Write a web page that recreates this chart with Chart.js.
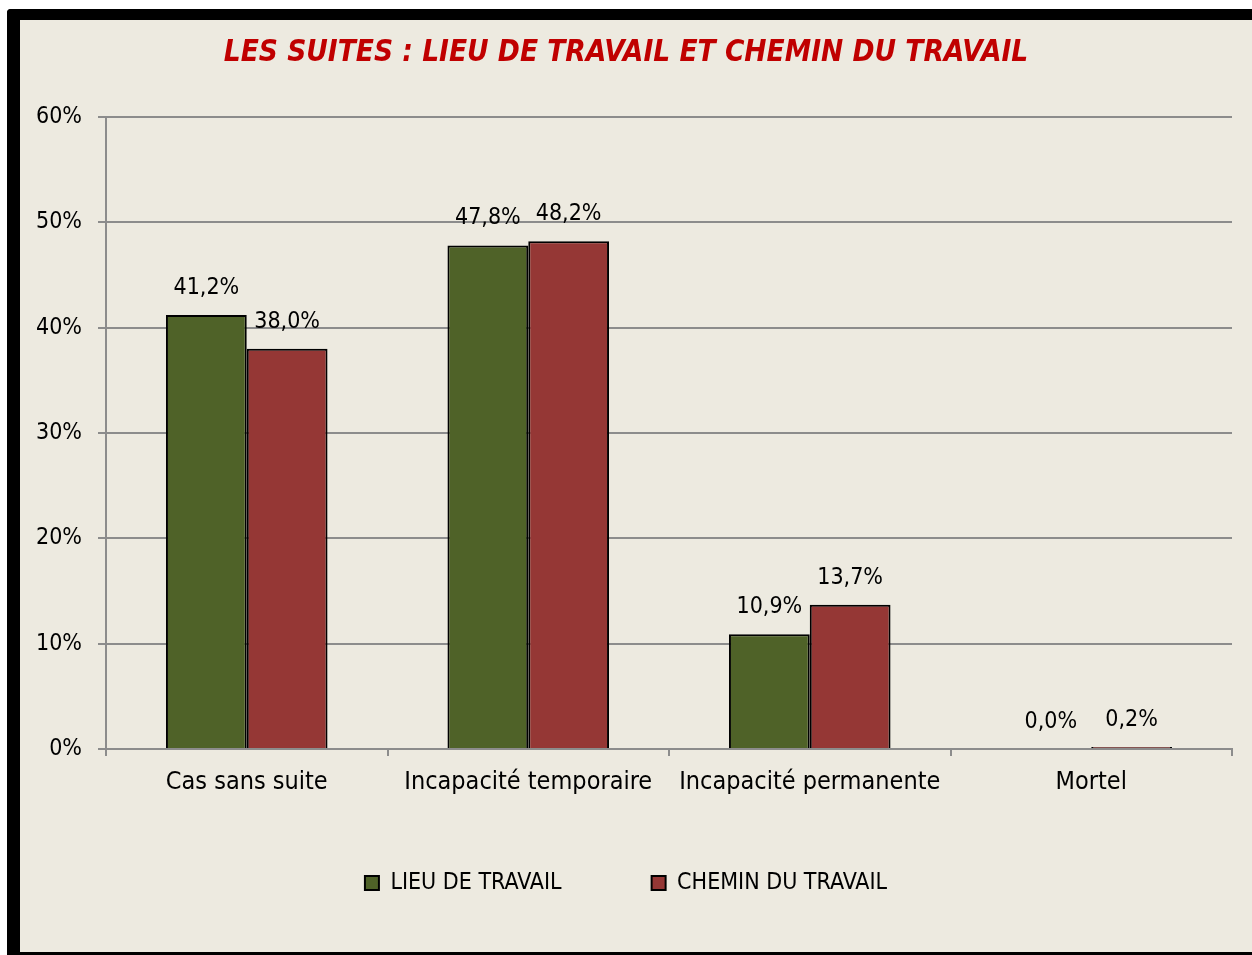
<!DOCTYPE html>
<html>
<head>
<meta charset="utf-8">
<script src="https://cdn.jsdelivr.net/npm/chart.js@4.4.0/dist/chart.umd.min.js"></script>
<style>
    html, body { margin: 0; padding: 0; background: #fff; }
    body { width: 1252px; height: 955px; position: relative; overflow: hidden; }
    #frame {
        position: absolute; left: 7px; top: 9px;
        width: 1260px; height: 932px;
        background: #EDEAE0;
        border-left: 13px solid #000; border-top: 11px solid #000; border-bottom: 3px solid #000;
        border-top-left-radius: 4px;
    }
    #suitesChart { position: absolute; left: 0; top: 0; }
</style>
</head>
<body>
<div id="frame"></div>
<canvas id="suitesChart" width="1252" height="955"></canvas>
<script>
// =========================
// Data
// =========================
const categories = ['Cas sans suite', 'Incapacité temporaire', 'Incapacité permanente', 'Mortel'];
const lieuDeTravail = [41.2, 47.8, 10.9, 0.0];
const cheminDuTravail = [38.0, 48.2, 13.7, 0.2];
const yTicks = [0, 10, 20, 30, 40, 50, 60];

const FONT = '"DejaVu Sans Condensed", "DejaVu Sans", sans-serif';
const GRID = '#8C8C8C';

// plot bottom at 749, legend text centred on 883
// legend padding also spaces the two items, so the x axis box stays short
// and its labels are drawn with mirror (no clipping to the axis box)
const plotBottom = 749;
const legendPad = 90;
const legendFont = 23;
const legendTop = 883 - legendPad - legendFont / 2;
const legendHeight = legendFont + legendPad + 10;
const xFont = 25;

// labels "41,2%" above each bar
const valueLabels = {
    id: 'valueLabels',
    afterDatasetsDraw(chart) {
        const ctx = chart.ctx;
        ctx.save();
        ctx.font = '23px ' + FONT;
        ctx.fillStyle = '#000';
        ctx.textAlign = 'center';
        ctx.textBaseline = 'middle';
        chart.data.datasets.forEach((ds, i) => {
            chart.getDatasetMeta(i).data.forEach((bar, j) => {
                let txt = ds.data[j].toFixed(1).replace('.', ',') + '%';
                ctx.fillText(txt, bar.x, bar.y - 27);
            });
        });
        ctx.restore();
    }
};

let ctx = document.getElementById('suitesChart').getContext('2d');

let suitesChart = new Chart(ctx, {
    type: 'bar',
    data: {
        labels: categories,
        datasets: [
            {
                label: 'LIEU DE TRAVAIL',
                data: lieuDeTravail,
                backgroundColor: '#4F6228',
                borderColor: '#000',
                borderWidth: 2,
                categoryPercentage: 0.574,
                barPercentage: 1
            },
            {
                label: 'CHEMIN DU TRAVAIL',
                data: cheminDuTravail,
                backgroundColor: '#953735',
                borderColor: '#000',
                borderWidth: 2,
                categoryPercentage: 0.574,
                barPercentage: 1
            }
        ]
    },
    options: {
        responsive: false,
        animation: false,
        layout: {
            padding: { left: 20, right: 20, top: 20, bottom: 955 - legendTop - legendHeight }
        },
        plugins: {
            title: {
                display: true,
                text: 'LES SUITES : LIEU DE TRAVAIL ET CHEMIN DU TRAVAIL',
                color: '#C00000',
                font: { family: FONT, size: 29.5, weight: 'bold', style: 'italic', lineHeight: 1.2 },
                padding: { top: 16, bottom: 97 - 16 - 29.5 * 1.2 }
            },
            legend: {
                position: 'bottom',
                labels: {
                    color: '#000',
                    font: { family: FONT, size: legendFont },
                    boxWidth: 14,
                    boxHeight: 14,
                    padding: legendPad
                }
            },
            tooltip: { enabled: false }
        },
        scales: {
            x: {
                grid: {
                    offset: true,
                    drawOnChartArea: false,
                    drawTicks: true,
                    tickLength: 7,
                    color: GRID,
                    lineWidth: 2
                },
                border: { color: GRID, width: 2 },
                ticks: {
                    color: '#000',
                    font: { family: FONT, size: xFont, lineHeight: 1.2 },
                    mirror: true,
                    padding: -(33 + xFont * 0.6),
                    maxRotation: 0,
                    minRotation: 0,
                    autoSkip: false
                },
                afterFit(scale) { scale.height = legendTop - plotBottom; }
            },
            y: {
                min: yTicks[0],
                max: yTicks[yTicks.length - 1],
                grid: { color: GRID, lineWidth: 2, tickLength: 8 },
                border: { color: GRID, width: 2 },
                ticks: {
                    stepSize: yTicks[1] - yTicks[0],
                    color: '#000',
                    font: { family: FONT, size: 23 },
                    padding: 16,
                    callback: function (v) { return v + '%'; }
                },
                afterFit(scale) { scale.width = 86; }
            }
        }
    },
    plugins: [valueLabels]
});
</script>
</body>
</html>
